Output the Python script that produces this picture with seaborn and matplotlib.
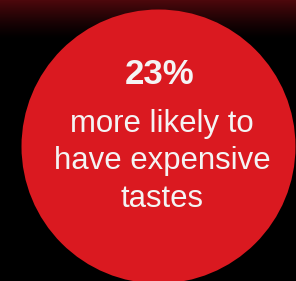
import numpy as np
import matplotlib
matplotlib.use("Agg")
import matplotlib.pyplot as plt
import seaborn as sns
from matplotlib.patches import Circle
from matplotlib.colors import LinearSegmentedColormap

# data
stat_value = 23
stat_label = ["more likely to", "have expensive", "tastes"]

sns.set_theme(style="white")
plt.rcParams['font.family'] = ['Liberation Sans', 'DejaVu Sans']

W, H = 296, 281
fig = plt.figure(figsize=(W / 100, H / 100), dpi=100)
fig.patch.set_facecolor("black")
ax = fig.add_axes([0, 0, 1, 1])
ax.set_xlim(0, W)
ax.set_ylim(H, 0)
ax.axis("off")

# top gradient, dark red fading into black
grad = np.linspace(1, 0, 40).reshape(-1, 1) ** 1.3
cmap = LinearSegmentedColormap.from_list("fade", ["#000000", "#4c080c"])
ax.imshow(grad, cmap=cmap, extent=[0, W, 40, 0], aspect="auto", vmin=0, vmax=1, zorder=0)

ax.add_patch(Circle((158.5, 146.5), 137, color="#da1920", zorder=1, lw=0))

ax.text(160, 84, f"{stat_value}%", color="#f4f4f4", fontsize=25, fontweight="bold",
        ha="center", va="baseline", zorder=2)
for i, line in enumerate(stat_label):
    ax.text(162, 132 + i * 37.5, line, color="#f4f4f4", fontsize=22.4,
            ha="center", va="baseline", zorder=2)

fig.savefig("out.png", dpi=100, facecolor="black")
